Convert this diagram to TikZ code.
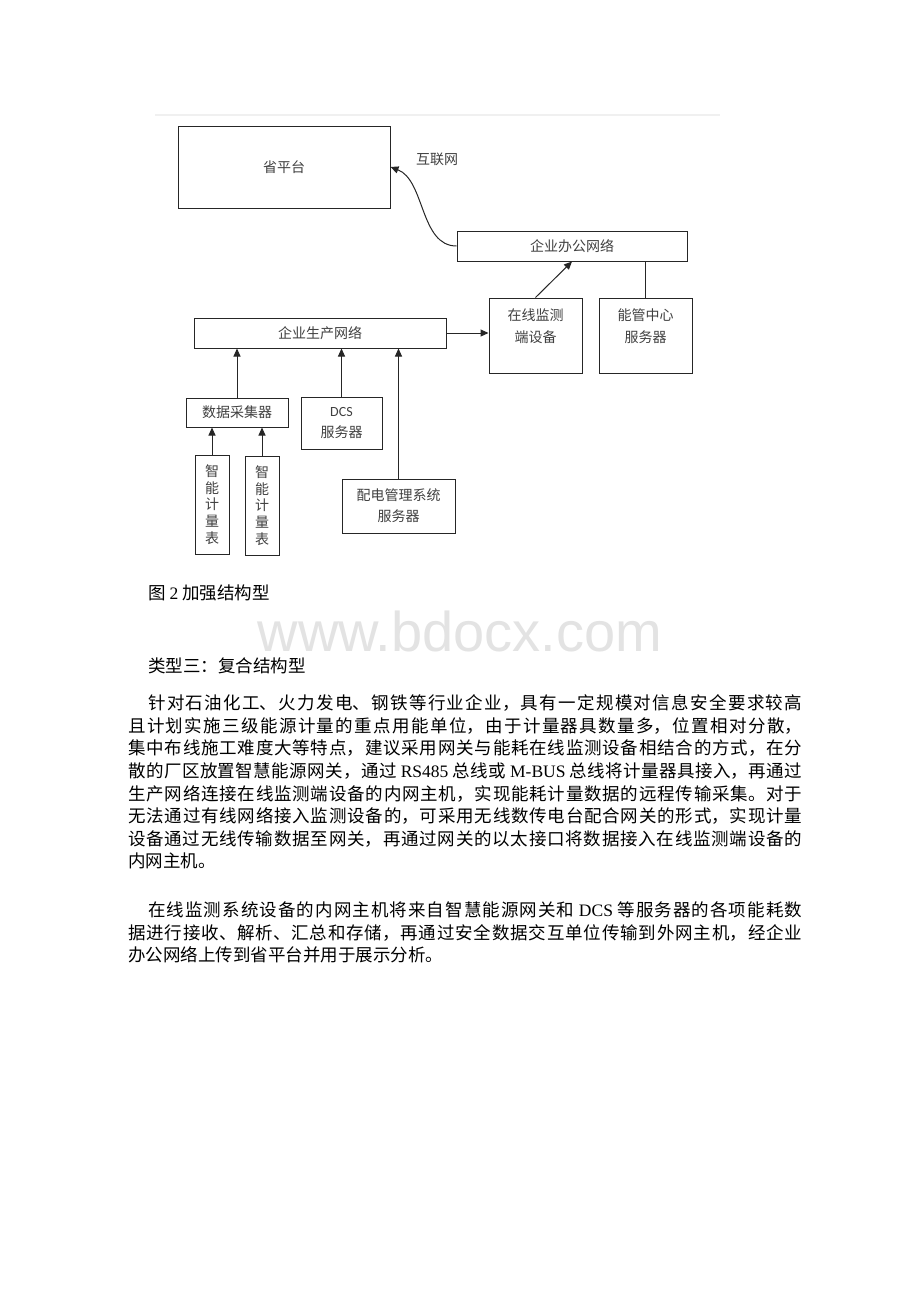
\documentclass[tikz,border=0pt]{standalone}
\usepackage{fontspec}
\usepackage{tikz}
\usetikzlibrary{arrows.meta}
\newfontfamily\cjk{Noto Sans CJK SC}
\newfontfamily\latfont{Liberation Serif}
\newfontfamily\wmfont{Liberation Sans}
\newfontfamily\dcsfont{Carlito}
\XeTeXlinebreaklocale "zh"
\XeTeXlinebreakskip=0pt plus 4pt
\tikzset{
  box/.style={draw=black!85, line width=1pt, inner sep=0pt, align=center,
    font=\cjk\fontsize{14}{21}\selectfont, text=black!75},
  lbl/.style={inner sep=0pt, align=center, font=\cjk\fontsize{14}{22}\selectfont, text=black!75},
  arr/.style={-{Triangle[length=8pt,width=7pt]}, line width=1pt, draw=black!85},
  body/.style={inner sep=0pt, anchor=base west, text=black,
    font=\cjk\fontsize{17.5}{22.6}\selectfont}
}
\begin{document}
\begin{tikzpicture}[x=1pt,y=-1pt]
\useasboundingbox[fill=white] (0,0) rectangle (920,1302);
\draw[black!6, line width=1.5pt] (155,115) -- (720,115);

\node[box, minimum width=212, minimum height=82] (sheng) at (284,167) {省平台};
\node[lbl] (inet) at (437,159) {互联网};
\node[box, minimum width=230, minimum height=30] (bangong) at (572,246) {企业办公网络};
\node[box, minimum width=93, minimum height=75] (zaixian) at (535.5,335.5) {};
\node[lbl] (zaixiantxt) at (535.5,326) {在线监测\\端设备};
\node[box, minimum width=93, minimum height=75] (nengguan) at (645.5,335.5) {};
\node[lbl] (nengguantxt) at (645.5,326) {能管中心\\服务器};
\node[box, minimum width=252, minimum height=30] (shengchan) at (320,333) {企业生产网络};
\node[box, minimum width=102, minimum height=29] (caiji) at (237,412.5) {数据采集器};
\node[box, minimum width=81, minimum height=52] (dcs) at (341.5,423) {{\dcsfont DCS}\\服务器};
\node[box, minimum width=113, minimum height=54] (peidian) at (398.5,506) {配电管理系统\\服务器};
\node[box, minimum width=34, minimum height=99, font=\cjk\fontsize{14}{16.6}\selectfont] (meterA) at (212,504.5) {智\\能\\计\\量\\表};
\node[box, minimum width=34, minimum height=99, font=\cjk\fontsize{14}{16.6}\selectfont] (meterB) at (262,505.5) {智\\能\\计\\量\\表};

\draw[arr] (bangong.west) .. controls (420,246) and (425,180) .. (sheng.east);
\draw[arr] (zaixian.north) -- (bangong.south);
\draw[line width=1pt, black!85] (nengguan.north) -- (nengguan.north |- bangong.south);
\draw[arr] (shengchan.east) -- (shengchan.east -| zaixian.west);
\draw[arr] (caiji.north) -- (caiji.north |- shengchan.south);
\draw[arr] (dcs.north) -- (dcs.north |- shengchan.south);
\draw[arr] (peidian.north) -- (peidian.north |- shengchan.south);
\draw[arr] (meterA.north) -- (meterA.north |- caiji.south);
\draw[arr] (meterB.north) -- (meterB.north |- caiji.south);

\node[body] (caption) at (148,599.5) {图 {\latfont 2} 加强结构型};
\node[inner sep=0pt, text=black!11, font=\wmfont\fontsize{56}{60}\selectfont] (mark) at (460,631) {www.bdocx.com};
\node[body] (kind) at (148,672.5) {类型三：复合结构型};
\node[body, text width=674pt, align=justify] (para1) at (128,709.6) {\hspace*{20pt}针对石油化工、火力发电、钢铁等行业企业，具有一定规模对信息安全要求较高\linebreak
且计划实施三级能源计量的重点用能单位，由于计量器具数量多，位置相对分散，\linebreak
集中布线施工难度大等特点，建议采用网关与能耗在线监测设备相结合的方式，在分\linebreak
散的厂区放置智慧能源网关，通过 {\latfont RS485} 总线或 {\latfont M-BUS} 总线将计量器具接入，再通过\linebreak
生产网络连接在线监测端设备的内网主机，实现能耗计量数据的远程传输采集。对于\linebreak
无法通过有线网络接入监测设备的，可采用无线数传电台配合网关的形式，实现计量\linebreak
设备通过无线传输数据至网关，再通过网关的以太接口将数据接入在线监测端设备的\linebreak
内网主机。};
\node[body, text width=674pt, align=justify] (para2) at (128,916.6) {\hspace*{20pt}在线监测系统设备的内网主机将来自智慧能源网关和 {\latfont DCS} 等服务器的各项能耗数\linebreak
据进行接收、解析、汇总和存储，再通过安全数据交互单位传输到外网主机，经企业\linebreak
办公网络上传到省平台并用于展示分析。};
\end{tikzpicture}
\end{document}
